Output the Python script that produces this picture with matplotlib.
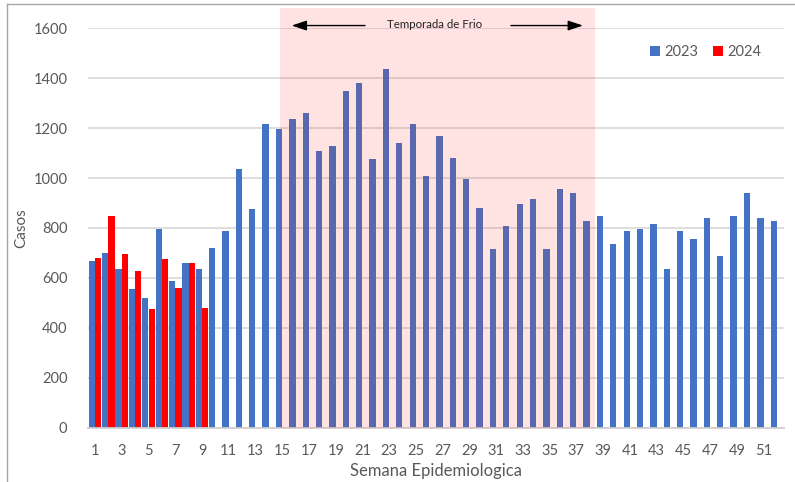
import matplotlib.pyplot as plt
from matplotlib.lines import Line2D
import numpy as np

plt.rcParams['font.family'] = ['Lato', 'DejaVu Sans']

# semanas epidemiologicas
weeks = list(range(1, 53))

# casos 2023 (semanas 1-52)
cases_2023 = [668, 701, 635, 555, 521, 795, 588, 661, 635, 721,
              788, 1035, 875, 1215, 1195, 1235, 1261, 1108, 1128, 1348,
              1381, 1075, 1435, 1141, 1215, 1007, 1168, 1081, 995, 881,
              715, 808, 895, 915, 715, 955, 941, 828, 848, 735,
              788, 795, 815, 635, 788, 755, 841, 688, 848, 941,
              841, 828]

# casos 2024 (semanas 1-9)
weeks_2024 = list(range(1, 10))
cases_2024 = [681, 848, 695, 628, 475, 675, 561, 661, 481]

season_start = 14.84
season_end = 38.4

blue = '#4472C4'
red = '#FF0000'
gray_txt = '#595959'

fig = plt.figure(figsize=(7.95, 4.82), dpi=100)
ax = fig.add_axes([0.1111, 0.1127, 0.8746, 0.8286])

w = 0.47
off = 0.24
x23 = np.array(weeks) - off
x24 = np.array(weeks_2024) + off
ax.bar(x23, cases_2023, width=w, color=blue, label='2023', zorder=2)
ax.bar(x24, cases_2024, width=w, color=red, label='2024', zorder=2)

# temporada de frio
ax.axvspan(season_start, season_end, ymin=0, ymax=1683 / 1600,
           color='#FF2020', alpha=0.12, lw=0, zorder=3, clip_on=False)

arrow = dict(arrowstyle='-|>,head_length=0.9,head_width=0.3', color='black', lw=1)
ax.annotate('', xy=(15.5, 1611), xytext=(21.4, 1611), arrowprops=arrow,
            annotation_clip=False, zorder=4)
ax.annotate('', xy=(37.7, 1611), xytext=(31.9, 1611), arrowprops=arrow,
            annotation_clip=False, zorder=4)
ax.text(26.4, 1615, 'Temporada de Frio', fontsize=8.3, ha='center', va='center',
        color='#222222', zorder=4)

ax.set_xlim(0.5, 52.5)
ax.set_ylim(0, 1600)
ax.set_yticks(range(0, 1601, 200))
ax.set_xticks(weeks[::2])
ax.grid(axis='y', color='#D4D4D4', lw=1.1, zorder=0)
ax.set_axisbelow(True)
for s in ['top', 'right', 'left']:
    ax.spines[s].set_visible(False)
ax.spines['bottom'].set_color('#D0D0D0')
ax.spines['bottom'].set_linewidth(1.3)
ax.tick_params(axis='both', length=0, labelsize=10.5, labelcolor=gray_txt)
ax.tick_params(axis='y', pad=15)
ax.tick_params(axis='x', pad=12)

ax.set_ylabel('Casos', fontsize=11, color=gray_txt, labelpad=4)
ax.set_xlabel('Semana Epidemiologica', fontsize=12, color=gray_txt, labelpad=3)

ax.legend(loc='upper right', bbox_to_anchor=(0.987, 0.99), ncol=2, frameon=False,
          fontsize=10.5, handlelength=0.7, handleheight=0.7, handletextpad=0.3,
          columnspacing=1.0, labelcolor=gray_txt)

# marco exterior
fig.add_artist(Line2D([0.0094, 1.0], [0.991, 0.991], color='#A6A6A6', lw=1))
fig.add_artist(Line2D([0.0094, 0.0094], [0.0, 0.991], color='#A6A6A6', lw=1))

fig.savefig('out.png', dpi=100)
